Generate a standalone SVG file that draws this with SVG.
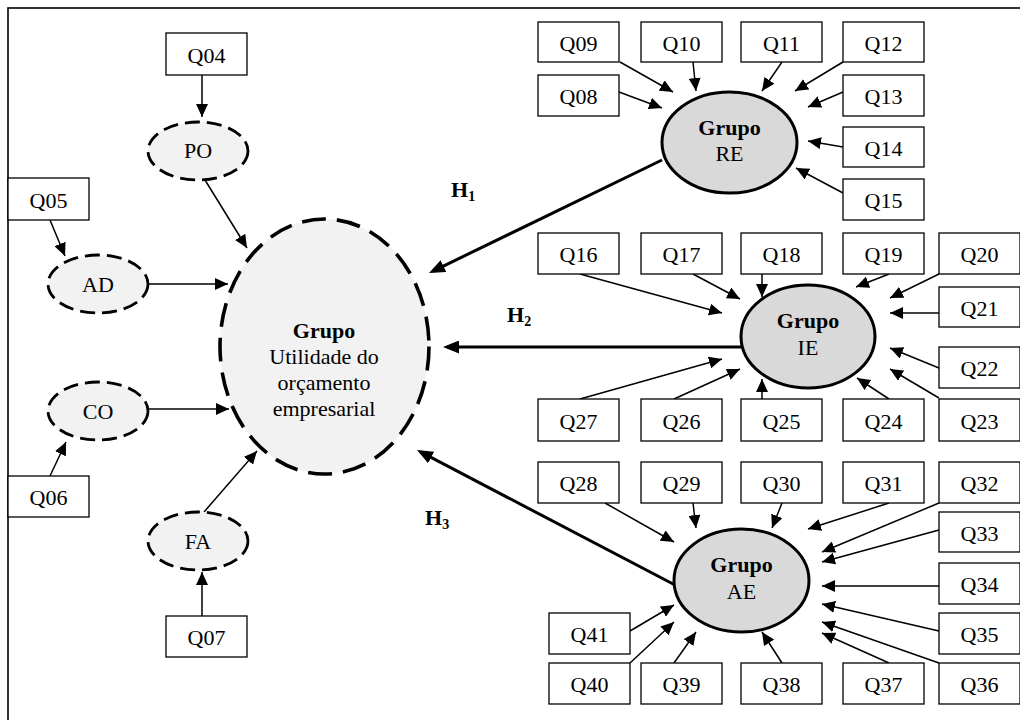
<svg xmlns="http://www.w3.org/2000/svg" width="1020" height="720" viewBox="0 0 1020 720">
<style>
text{font-family:"Liberation Serif","Times New Roman",serif;font-size:22px;fill:#000;text-anchor:middle}
.b{font-weight:bold}
.box{fill:#fff;stroke:#000;stroke-width:1.3}
.lat{fill:#f2f2f2;stroke:#000;stroke-width:2.8;stroke-dasharray:15 7}
.main{fill:#f2f2f2;stroke:#000;stroke-width:3.6;stroke-dasharray:24 11}
.grp{fill:#d9d9d9;stroke:#000;stroke-width:3}
.c{fill:none;stroke:#000;stroke-width:1.5;marker-end:url(#a)}
.h{fill:none;stroke:#000;stroke-width:3;marker-end:url(#ah)}
.hl{font-weight:bold;text-anchor:start}
.sub{font-size:14px}
</style>
<defs>
<marker id="a" markerUnits="userSpaceOnUse" viewBox="0 0 13 12" markerWidth="13" markerHeight="12" refX="13" refY="6" orient="auto"><path d="M0,0 L13,6 L0,12 z" fill="#000"/></marker>
<marker id="ah" markerUnits="userSpaceOnUse" viewBox="0 0 16 13" markerWidth="16" markerHeight="13" refX="12" refY="6.5" orient="auto"><path d="M0,0 L16,6.5 L0,13 z" fill="#000"/></marker>
</defs>
<rect x="8" y="8" width="1030" height="730" fill="#fff" stroke="#000" stroke-width="1.6"/>

<g id="connectors">
<path class="c" d="M202,75 L202,117"/>
<path class="c" d="M205,180 L247,248"/>
<path class="c" d="M50,220 L65,256"/>
<path class="c" d="M148,284 L228,284"/>
<path class="c" d="M148,409 L229,409"/>
<path class="c" d="M50,476 L66,442"/>
<path class="c" d="M204,512 L257,451"/>
<path class="c" d="M202,616 L202,572"/>
<path class="c" d="M620,62 L673,92"/>
<path class="c" d="M693,62 L696,91"/>
<path class="c" d="M782,62 L762,91"/>
<path class="c" d="M843,62 L795,91"/>
<path class="c" d="M619,92 L662,108"/>
<path class="c" d="M843,92 L808,107"/>
<path class="c" d="M843,147 L808,141"/>
<path class="c" d="M843,193 L796,168"/>
<path class="c" d="M580,274 L722,313"/>
<path class="c" d="M693,274 L740,299"/>
<path class="c" d="M762,274 L762,297"/>
<path class="c" d="M889,274 L856,287"/>
<path class="c" d="M939,274 L890,298"/>
<path class="c" d="M939,313 L890,313"/>
<path class="c" d="M939,368 L890,348"/>
<path class="c" d="M939,398 L890,369"/>
<path class="c" d="M889,399 L857,378"/>
<path class="c" d="M762,399 L762,379"/>
<path class="c" d="M674,399 L740,369"/>
<path class="c" d="M580,399 L722,359"/>
<path class="c" d="M605,503 L674,542"/>
<path class="c" d="M693,503 L696,528"/>
<path class="c" d="M782,503 L772,528"/>
<path class="c" d="M889,503 L808,529"/>
<path class="c" d="M939,503 L822,552"/>
<path class="c" d="M939,530 L822,562"/>
<path class="c" d="M939,586 L822,586"/>
<path class="c" d="M939,631 L822,604"/>
<path class="c" d="M939,663 L822,622"/>
<path class="c" d="M889,663 L822,633"/>
<path class="c" d="M782,663 L762,632"/>
<path class="c" d="M674,663 L696,632"/>
<path class="c" d="M630,663 L674,622"/>
<path class="c" d="M630,631 L674,605"/>
<path class="h" d="M662,160 L432.6,271.3"/>
<path class="h" d="M742,347 L447,347"/>
<path class="h" d="M675,585 L420.5,451.9"/>
<text class="hl" x="451" y="197">H<tspan class="sub" dy="4">1</tspan></text>
<text class="hl" x="507" y="322">H<tspan class="sub" dy="4">2</tspan></text>
<text class="hl" x="425" y="525">H<tspan class="sub" dy="4">3</tspan></text>
</g>

<g id="utilidade"><ellipse class="main" cx="324.5" cy="346.5" rx="104.5" ry="127.5"/>
<text class="b" x="324" y="338">Grupo</text><text x="324" y="364">Utilidade do</text><text x="324" y="390">orçamento</text><text x="324" y="416">empresarial</text></g>

<g id="PO"><ellipse class="lat" cx="198" cy="151" rx="50" ry="29"/><text x="198" y="158">PO</text></g>
<g id="AD"><ellipse class="lat" cx="98" cy="284" rx="50" ry="29"/><text x="98" y="292">AD</text></g>
<g id="CO"><ellipse class="lat" cx="98" cy="411" rx="50" ry="29"/><text x="98" y="419">CO</text></g>
<g id="FA"><ellipse class="lat" cx="198" cy="541" rx="50" ry="29"/><text x="198" y="549">FA</text></g>

<g id="Q04"><rect class="box" x="166" y="33" width="81" height="42"/><text x="206.5" y="63">Q04</text></g>
<g id="Q05"><rect class="box" x="8" y="178" width="81" height="42"/><text x="48.5" y="208">Q05</text></g>
<g id="Q06"><rect class="box" x="8" y="476" width="81" height="41"/><text x="48.5" y="505">Q06</text></g>
<g id="Q07"><rect class="box" x="166" y="616" width="81" height="41"/><text x="206.5" y="645">Q07</text></g>

<g id="RE"><ellipse class="grp" cx="729.5" cy="142.5" rx="67.5" ry="50.5"/><text class="b" x="729.5" y="135">Grupo</text><text x="729.5" y="161">RE</text></g>
<g id="IE"><ellipse class="grp" cx="808" cy="336.5" rx="67" ry="51.5"/><text class="b" x="808" y="328">Grupo</text><text x="808" y="355">IE</text></g>
<g id="AE"><ellipse class="grp" cx="741.5" cy="580.5" rx="67.5" ry="51.5"/><text class="b" x="741.5" y="572">Grupo</text><text x="741.5" y="599">AE</text></g>

<g id="Q09"><rect class="box" x="538" y="22" width="81" height="40"/><text x="578.5" y="51">Q09</text></g>
<g id="Q10"><rect class="box" x="641" y="22" width="81" height="40"/><text x="681.5" y="51">Q10</text></g>
<g id="Q11"><rect class="box" x="741" y="22" width="81" height="40"/><text x="781.5" y="51">Q11</text></g>
<g id="Q12"><rect class="box" x="843" y="22" width="81" height="40"/><text x="883.5" y="51">Q12</text></g>
<g id="Q08"><rect class="box" x="538" y="75" width="81" height="41"/><text x="578.5" y="104">Q08</text></g>
<g id="Q13"><rect class="box" x="843" y="75" width="81" height="41"/><text x="883.5" y="104">Q13</text></g>
<g id="Q14"><rect class="box" x="843" y="127" width="81" height="40"/><text x="883.5" y="156">Q14</text></g>
<g id="Q15"><rect class="box" x="843" y="179" width="81" height="41"/><text x="883.5" y="208">Q15</text></g>

<g id="Q16"><rect class="box" x="538" y="233" width="81" height="41"/><text x="578.5" y="262">Q16</text></g>
<g id="Q17"><rect class="box" x="641" y="233" width="81" height="41"/><text x="681.5" y="262">Q17</text></g>
<g id="Q18"><rect class="box" x="741" y="233" width="81" height="41"/><text x="781.5" y="262">Q18</text></g>
<g id="Q19"><rect class="box" x="843" y="233" width="81" height="41"/><text x="883.5" y="262">Q19</text></g>
<g id="Q20"><rect class="box" x="939" y="233" width="81" height="41"/><text x="979.5" y="262">Q20</text></g>
<g id="Q21"><rect class="box" x="939" y="287" width="81" height="40"/><text x="979.5" y="316">Q21</text></g>
<g id="Q22"><rect class="box" x="939" y="347" width="81" height="41"/><text x="979.5" y="376">Q22</text></g>
<g id="Q23"><rect class="box" x="939" y="399" width="81" height="42"/><text x="979.5" y="429">Q23</text></g>
<g id="Q24"><rect class="box" x="843" y="399" width="81" height="42"/><text x="883.5" y="429">Q24</text></g>
<g id="Q25"><rect class="box" x="741" y="399" width="81" height="42"/><text x="781.5" y="429">Q25</text></g>
<g id="Q26"><rect class="box" x="641" y="399" width="81" height="42"/><text x="681.5" y="429">Q26</text></g>
<g id="Q27"><rect class="box" x="538" y="399" width="81" height="42"/><text x="578.5" y="429">Q27</text></g>

<g id="Q28"><rect class="box" x="538" y="462" width="81" height="41"/><text x="578.5" y="491">Q28</text></g>
<g id="Q29"><rect class="box" x="641" y="462" width="81" height="41"/><text x="681.5" y="491">Q29</text></g>
<g id="Q30"><rect class="box" x="741" y="462" width="81" height="41"/><text x="781.5" y="491">Q30</text></g>
<g id="Q31"><rect class="box" x="843" y="462" width="81" height="41"/><text x="883.5" y="491">Q31</text></g>
<g id="Q32"><rect class="box" x="939" y="462" width="81" height="41"/><text x="979.5" y="491">Q32</text></g>
<g id="Q33"><rect class="box" x="939" y="512" width="81" height="40"/><text x="979.5" y="541">Q33</text></g>
<g id="Q34"><rect class="box" x="939" y="563" width="81" height="41"/><text x="979.5" y="592">Q34</text></g>
<g id="Q35"><rect class="box" x="939" y="613" width="81" height="41"/><text x="979.5" y="642">Q35</text></g>
<g id="Q36"><rect class="box" x="939" y="663" width="81" height="41"/><text x="979.5" y="692">Q36</text></g>
<g id="Q37"><rect class="box" x="843" y="663" width="81" height="41"/><text x="883.5" y="692">Q37</text></g>
<g id="Q38"><rect class="box" x="741" y="663" width="81" height="41"/><text x="781.5" y="692">Q38</text></g>
<g id="Q39"><rect class="box" x="641" y="663" width="81" height="41"/><text x="681.5" y="692">Q39</text></g>
<g id="Q40"><rect class="box" x="549" y="663" width="81" height="41"/><text x="589.5" y="692">Q40</text></g>
<g id="Q41"><rect class="box" x="549" y="613" width="81" height="41"/><text x="589.5" y="642">Q41</text></g>
</svg>
